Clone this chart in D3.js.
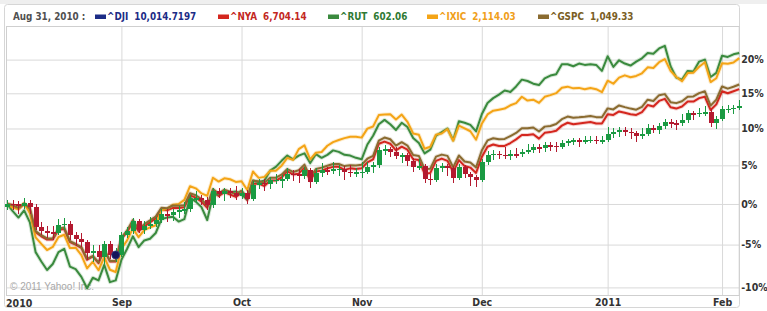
<!DOCTYPE html>
<html>
<head>
<meta charset="utf-8">
<title>Index comparison</title>
<style>
  body { margin: 0; background: #fff; }
  svg text { font-family: 'DejaVu Sans Condensed', 'DejaVu Sans', sans-serif; font-stretch: condensed; }
</style>
</head>
<body>
<svg id="chart" width="767" height="311"></svg>

<script src="https://d3js.org/d3.v7.min.js"></script>
<script type="text/javascript">

// trading days shown on the chart
const dates = [
    '2010-08-04','2010-08-05','2010-08-06','2010-08-09','2010-08-10','2010-08-11','2010-08-12','2010-08-13','2010-08-16','2010-08-17',
    '2010-08-18','2010-08-19','2010-08-20','2010-08-23','2010-08-24','2010-08-25','2010-08-26','2010-08-27','2010-08-30','2010-08-31',
    '2010-09-01','2010-09-02','2010-09-03','2010-09-07','2010-09-08','2010-09-09','2010-09-10','2010-09-13','2010-09-14','2010-09-15',
    '2010-09-16','2010-09-17','2010-09-20','2010-09-21','2010-09-22','2010-09-23','2010-09-24','2010-09-27','2010-09-28','2010-09-29','2010-09-30',
    '2010-10-01','2010-10-04','2010-10-05','2010-10-06','2010-10-07','2010-10-08','2010-10-11','2010-10-12','2010-10-13','2010-10-14',
    '2010-10-15','2010-10-18','2010-10-19','2010-10-20','2010-10-21','2010-10-22','2010-10-25','2010-10-26','2010-10-27','2010-10-28','2010-10-29',
    '2010-11-01','2010-11-02','2010-11-03','2010-11-04','2010-11-05','2010-11-08','2010-11-09','2010-11-10','2010-11-11','2010-11-12',
    '2010-11-15','2010-11-16','2010-11-17','2010-11-18','2010-11-19','2010-11-22','2010-11-23','2010-11-24','2010-11-26','2010-11-29','2010-11-30',
    '2010-12-01','2010-12-02','2010-12-03','2010-12-06','2010-12-07','2010-12-08','2010-12-09','2010-12-10','2010-12-13','2010-12-14',
    '2010-12-15','2010-12-16','2010-12-17','2010-12-20','2010-12-21','2010-12-22','2010-12-23','2010-12-27','2010-12-28','2010-12-29','2010-12-30','2010-12-31',
    '2011-01-03','2011-01-04','2011-01-05','2011-01-06','2011-01-07','2011-01-10','2011-01-11','2011-01-12','2011-01-13','2011-01-14',
    '2011-01-18','2011-01-19','2011-01-20','2011-01-21','2011-01-24','2011-01-25','2011-01-26','2011-01-27','2011-01-28','2011-01-31',
    '2011-02-01','2011-02-02','2011-02-03','2011-02-04'
];

// ^DJI candles, % change from first close
const djiOpen = [
    -0.41,0.00,-0.05,-0.25,0.17,-0.34,-2.82,-3.38,-3.53,-3.54,-2.57,-2.48,-3.83,-4.37,-4.74,-5.99,-5.81,-6.50,-4.96,-6.28,
    -6.23,-3.85,-3.37,-2.18,-3.18,-2.75,-2.48,-2.04,-1.28,-1.44,-1.01,-0.80,-0.68,0.69,0.75,0.55,-0.17,1.68,1.23,1.66,1.45,
    1.01,1.40,0.66,2.47,2.69,2.51,3.05,3.09,3.18,3.89,3.88,3.58,4.34,2.79,4.00,4.36,4.23,4.53,4.58,4.17,4.06,
    4.10,4.16,4.76,5.01,7.06,7.15,6.80,6.24,6.34,5.64,4.80,4.88,3.21,3.07,4.69,4.90,4.66,3.33,4.75,3.85,3.48,
    3.05,5.39,6.39,6.57,6.38,6.35,6.48,6.46,6.83,7.00,7.45,7.28,7.67,7.60,7.47,7.98,8.23,8.36,8.19,8.38,8.47,8.33,
    8.40,9.27,9.46,9.76,9.52,9.31,8.96,9.28,10.07,9.84,10.36,10.84,10.72,10.70,11.16,12.17,12.14,12.22,12.26,10.70,
    11.34,12.73,12.75,12.94
];
const djiHigh = [
    0.45,0.55,0.35,0.75,0.50,-0.04,-2.20,-2.80,-2.70,-1.85,-1.80,-2.10,-3.50,-3.60,-4.44,-5.00,-5.00,-4.60,-4.60,-5.40,
    -3.50,-2.90,-1.70,-1.88,-2.10,-1.60,-1.60,-0.60,-0.60,-0.60,-0.30,0.20,1.10,1.70,1.20,0.85,2.10,2.00,2.10,2.10,2.30,
    2.10,1.75,3.00,3.25,3.25,3.45,3.80,3.70,4.70,4.40,4.50,4.80,4.64,4.60,5.30,4.80,5.40,5.00,4.88,5.00,4.70,
    5.40,5.40,5.50,7.50,7.70,7.45,7.40,6.70,6.64,6.00,5.90,5.20,3.90,5.20,5.30,5.20,4.96,5.20,5.05,4.15,3.78,
    5.80,6.90,7.00,6.90,7.50,7.00,7.30,7.20,7.80,7.90,7.90,8.10,8.20,8.10,8.40,8.60,8.70,8.66,8.90,9.00,8.90,8.90,
    10.20,10.10,10.20,10.20,10.10,9.61,10.00,10.60,10.50,10.70,11.30,11.30,11.20,12.10,12.60,12.50,12.90,13.10,12.70,11.70,
    13.20,13.30,13.30,14.00
];
const djiLow = [
    -0.75,-0.70,-1.20,-0.60,-1.20,-3.25,-3.90,-4.20,-4.40,-3.84,-3.20,-4.40,-5.20,-5.30,-6.80,-7.10,-6.90,-7.30,-6.70,-7.10,
    -6.53,-4.20,-3.67,-3.60,-3.70,-3.10,-2.90,-2.34,-2.20,-2.10,-1.70,-1.20,-0.98,0.10,-0.10,-0.70,-0.47,0.70,0.40,0.80,0.50,
    0.60,0.00,0.36,1.90,1.70,1.90,2.60,2.00,2.88,3.00,2.70,3.20,2.00,2.49,3.40,3.70,3.90,3.60,3.10,3.50,3.40,
    3.30,3.86,4.00,4.71,6.40,6.10,5.80,5.30,4.90,4.10,4.40,2.70,2.40,2.77,4.10,3.60,2.70,3.03,3.30,2.30,2.20,
    2.75,5.09,5.70,5.80,5.90,5.70,6.00,6.10,6.50,6.60,6.60,6.80,6.90,6.80,7.17,7.60,7.70,7.40,7.80,8.00,7.90,7.80,
    8.10,8.70,8.80,9.00,8.50,8.20,8.60,8.98,9.40,9.30,9.90,10.10,9.80,10.40,10.80,11.20,11.60,11.70,10.20,9.90,
    11.04,12.20,12.00,12.60
];
const djiClose = [
    0.00,-0.05,-0.25,0.17,-0.34,-2.82,-3.38,-3.53,-3.54,-2.57,-2.48,-3.83,-4.37,-4.74,-5.99,-5.81,-6.50,-4.96,-6.28,-6.23,
    -3.85,-3.37,-2.18,-3.18,-2.75,-2.48,-2.04,-1.28,-1.44,-1.01,-0.80,-0.68,0.69,0.75,0.55,-0.17,1.68,1.23,1.66,1.45,1.01,
    1.40,0.66,2.47,2.69,2.51,3.05,3.09,3.18,3.89,3.88,3.58,4.34,2.79,4.00,4.36,4.23,4.53,4.58,4.17,4.06,4.10,
    4.16,4.76,5.01,7.06,7.15,6.80,6.24,6.34,5.64,4.80,4.88,3.21,3.07,4.69,4.90,4.66,3.33,4.75,3.85,3.48,3.05,
    5.39,6.39,6.57,6.38,6.35,6.48,6.46,6.83,7.00,7.45,7.28,7.67,7.60,7.47,7.98,8.23,8.36,8.19,8.38,8.47,8.33,8.40,
    9.27,9.46,9.76,9.52,9.31,8.96,9.28,10.07,9.84,10.36,10.84,10.72,10.70,11.16,12.17,12.14,12.22,12.26,10.70,11.34,
    12.73,12.75,12.94,13.22
];

// comparison lines, % change from first close
const nya = [
    0.0,-0.2,-0.6,0.0,-0.7,-3.5,-4.0,-4.4,-4.4,-3.2,-3.1,-4.7,-5.0,-5.4,-6.8,-6.4,-7.2,-5.6,-7.0,-7.0,
    -4.3,-3.5,-2.2,-3.4,-2.8,-2.3,-1.8,-0.7,-0.8,-0.5,-0.5,-0.4,1.1,0.8,0.3,-0.5,1.6,1.0,1.5,1.2,0.9,
    1.4,0.5,2.6,2.6,2.3,3.0,3.0,3.4,4.2,3.8,3.9,4.7,3.0,4.2,4.3,4.6,4.8,4.8,4.4,4.6,4.5,
    4.6,5.4,5.8,7.9,8.2,7.9,7.0,7.5,7.1,5.8,5.7,3.9,4.0,5.6,5.9,5.6,4.1,5.7,4.9,4.7,4.0,
    6.1,7.5,7.8,7.6,7.6,8.0,8.5,9.1,9.1,9.2,8.6,9.4,9.5,9.7,10.4,10.8,10.6,10.7,10.8,10.9,10.7,10.7,
    12.0,11.9,12.4,12.2,12.0,11.9,12.3,13.3,13.1,13.9,14.2,13.0,12.8,13.1,13.8,13.8,14.3,14.5,12.6,13.4,
    15.3,15.0,15.3,15.6
];
const rut = [
    0.0,-0.9,-1.7,-0.8,-2.3,-5.9,-7.0,-8.0,-7.3,-5.9,-5.5,-7.6,-7.9,-8.8,-10.1,-8.9,-9.2,-7.4,-9.4,-9.2,
    -6.8,-5.5,-4.0,-5.3,-4.5,-4.3,-3.6,-1.9,-1.7,-1.6,-2.2,-1.9,0.8,0.3,-0.4,-2.0,1.1,1.3,1.6,1.5,1.6,
    1.2,0.6,3.0,2.8,3.0,4.3,4.8,5.6,6.3,5.8,6.3,6.6,5.3,6.5,6.0,6.4,7.0,6.8,6.4,6.3,6.0,
    5.8,7.8,9.0,10.6,11.2,10.6,9.8,10.8,10.2,8.7,8.0,6.6,7.1,9.0,9.5,10.0,8.4,11.0,10.8,10.5,9.6,
    12.0,13.6,14.3,14.8,15.4,15.2,16.0,17.0,16.8,16.4,16.2,17.2,17.6,17.8,19.3,19.3,19.0,19.4,19.2,19.3,19.2,18.3,
    20.5,18.9,19.9,19.4,19.1,19.7,20.2,21.0,20.9,21.7,22.1,19.0,17.3,17.0,18.3,18.2,19.7,20.0,17.4,18.0,
    20.6,20.4,20.8,21.0
];
const ixic = [
    0.00,-0.46,-0.66,0.09,-1.15,-4.12,-4.92,-5.65,-5.28,-4.09,-3.81,-5.41,-5.37,-6.25,-7.81,-7.03,-8.03,-6.51,-7.97,-8.23,
    -5.50,-4.50,-3.03,-4.11,-3.24,-2.92,-2.65,-0.78,-0.60,-0.10,-0.01,0.52,2.27,1.99,1.34,1.02,3.37,2.87,3.30,3.17,2.82,
    2.92,1.78,4.18,3.35,3.48,4.27,4.29,4.96,5.98,5.72,7.17,7.69,5.79,6.68,6.78,7.63,8.13,8.41,8.67,8.85,8.85,
    8.74,9.98,10.28,11.88,11.96,12.00,11.26,11.95,10.94,9.32,9.13,7.22,7.49,9.15,9.31,9.92,8.31,10.40,10.03,9.62,8.45,
    10.67,11.97,12.50,12.65,12.80,13.27,13.59,14.50,13.95,14.07,13.62,14.49,14.73,15.02,15.80,15.97,15.72,15.79,15.60,15.77,15.60,15.16,
    16.84,16.40,17.30,17.64,17.35,17.55,17.94,18.83,18.74,19.61,20.07,18.31,17.40,16.76,17.97,18.04,18.92,19.61,16.64,17.21,
    19.43,19.36,19.55,20.22
];
const gspc = [
    0.00,-0.13,-0.50,0.05,-0.55,-3.35,-3.87,-4.26,-4.25,-3.08,-2.93,-4.58,-4.93,-5.31,-6.69,-6.38,-7.10,-5.56,-6.95,-6.91,
    -4.17,-3.29,-2.02,-3.14,-2.52,-2.05,-1.57,-0.47,-0.54,-0.19,-0.23,-0.15,1.37,1.11,0.62,-0.21,1.90,1.32,1.82,1.55,1.24,
    1.69,0.87,2.97,2.90,2.73,3.36,3.38,3.77,4.51,4.13,4.34,5.10,3.43,4.52,4.70,4.95,5.18,5.18,4.90,5.02,4.97,
    5.07,5.88,6.27,8.32,8.75,8.52,7.64,8.11,7.66,6.38,6.26,4.53,4.56,6.16,6.43,6.26,4.75,6.31,5.51,5.37,4.73,
    6.99,8.36,8.65,8.51,8.56,8.96,9.38,10.04,10.04,10.14,9.58,10.26,10.35,10.63,11.30,11.67,11.49,11.56,11.65,11.76,11.59,11.57,
    12.83,12.68,13.25,13.01,12.80,12.64,13.06,14.08,13.89,14.73,14.88,13.72,13.58,13.85,14.51,14.54,15.03,15.29,13.23,14.09,
    16.00,15.68,15.96,16.29
];

// legend (values at the hovered day)
const hoverDate = 'Aug 31, 2010';
const hoverDay = '2010-08-31';
const symbols = ['^DJI', '^NYA', '^RUT', '^IXIC', '^GSPC'];
const quotes = ['10,014.7197', '6,704.14', '602.06', '2,114.03', '1,049.33'];

// axes
const monthTicks = ['2010-09-01', '2010-10-01', '2010-11-01', '2010-12-01', '2011-01-03', '2011-02-01'];
const monthLabels = ['Sep', 'Oct', 'Nov', 'Dec', '2011', 'Feb'];
const startLabel = '2010';
const pctTicks = [20, 15, 10, 5, 0, -5, -10];

const colors = {
    dji: '#1c2c86', nya: '#d4261e', rut: '#3a8a3e', ixic: '#f4a416', gspc: '#8a6b30',
    up: '#1a9a42', down: '#b3192f'
};
const textColors = ['#1c2c86', '#c3281f', '#2f7a34', '#f0a01a', '#7a5e24'];

const svg = d3.select('#chart');
const plotLeft = 7, plotRight = 739.2, plotTop = 26, plotBottom = 295;

const x = d3.scalePoint()
    .domain(dates)
    .range([plotLeft, plotRight]);

// log scale on (1 + change), like the original percent comparison
const y = d3.scaleLog()
    .domain([0.9, 1.2])
    .range([287.4, 59.6]);
const yp = p => y(1 + p / 100);

// frame
svg.append('rect')
    .attr('x', 0).attr('y', 0).attr('width', 767).attr('height', 4)
    .attr('fill', '#efefef');
svg.append('rect')
    .attr('x', 4.5).attr('y', 4.5).attr('width', 735).attr('height', 303)
    .attr('rx', 3)
    .attr('fill', '#fff')
    .attr('stroke', '#d6d6d6');

// y axis + horizontal grid
svg.append('g')
    .attr('class', 'y-axis')
    .attr('transform', `translate(${plotRight}, 0)`)
    .call(d3.axisRight(y)
        .tickValues(pctTicks.map(p => 1 + p / 100))
        .tickFormat(v => Math.round((v - 1) * 100) + '%')
        .tickSize(-(plotRight - plotLeft + 1))
        .tickPadding(2))
    .call(g => g.select('.domain').remove())
    .call(g => g.selectAll('.tick line').attr('stroke', '#d9d9d9'))
    .call(g => g.selectAll('.tick text')
        .attr('fill', '#333')
        .style('font-size', '10.5px')
        .style('font-weight', 'bold'));

// x axis + vertical grid
svg.append('g')
    .attr('class', 'x-axis')
    .attr('transform', `translate(0, ${plotBottom})`)
    .call(d3.axisBottom(x)
        .tickValues(monthTicks)
        .tickFormat((d, i) => monthLabels[i])
        .tickSize(-(plotBottom - plotTop))
        .tickPadding(4))
    .call(g => g.select('.domain').remove())
    .call(g => g.selectAll('.tick line').attr('stroke', '#d9d9d9'))
    .call(g => g.selectAll('.tick text')
        .attr('fill', '#333')
        .style('font-size', '10.5px')
        .style('font-weight', 'bold'));

svg.append('text')
    .attr('x', 6)
    .attr('y', plotBottom + 12)
    .attr('fill', '#333')
    .style('font-size', '10.5px')
    .style('font-weight', 'bold')
    .text(startLabel);

// plot border
svg.append('rect')
    .attr('x', 6.5).attr('y', plotTop + 0.5)
    .attr('width', plotRight - 6.5).attr('height', plotBottom - plotTop)
    .attr('fill', 'none')
    .attr('stroke', '#cfcfcf');

svg.append('text')
    .attr('x', 10)
    .attr('y', 290)
    .attr('fill', '#a8a8a8')
    .style('font-family', "'Liberation Sans', Arial, sans-serif")
    .style('font-stretch', 'normal')
    .style('font-size', '10px')
    .text('\u00a9 2011 Yahoo! Inc.');

// comparison lines
const line = d3.line()
    .x((d, i) => x(dates[i]))
    .y(d => yp(d));

const series = [
    { values: nya, color: colors.nya },
    { values: rut, color: colors.rut },
    { values: ixic, color: colors.ixic },
    { values: gspc, color: colors.gspc }
];

const lines = svg.append('g').attr('class', 'lines');
for (const s of series) {
    lines.append('path')
        .attr('d', line(s.values))
        .attr('fill', 'none')
        .attr('stroke', s.color)
        .attr('stroke-opacity', 0.2)
        .attr('stroke-width', 4)
        .attr('stroke-linejoin', 'round');
    lines.append('path')
        .attr('d', line(s.values))
        .attr('fill', 'none')
        .attr('stroke', s.color)
        .attr('stroke-width', 2)
        .attr('stroke-linejoin', 'round');
}

// ^DJI candles
const candles = svg.append('g')
    .attr('class', 'candles')
    .attr('shape-rendering', 'crispEdges')
    .selectAll('g')
    .data(dates)
    .join('g')
        .attr('transform', d => `translate(${Math.round(x(d))}, 0)`);

const candleColor = (d, i) => djiClose[i] >= djiOpen[i] ? colors.up : colors.down;

candles.append('line')
    .attr('x1', 0.5).attr('x2', 0.5)
    .attr('y1', (d, i) => yp(djiHigh[i]))
    .attr('y2', (d, i) => yp(djiLow[i]))
    .attr('stroke', candleColor)
    .attr('stroke-width', 1);

candles.append('rect')
    .attr('x', -2)
    .attr('width', 5)
    .attr('y', (d, i) => yp(Math.max(djiOpen[i], djiClose[i])))
    .attr('height', (d, i) => Math.max(1.5, yp(Math.min(djiOpen[i], djiClose[i])) - yp(Math.max(djiOpen[i], djiClose[i]))))
    .attr('fill', candleColor);

// hover marker
const hi = dates.indexOf(hoverDay);
svg.append('circle')
    .attr('cx', x(hoverDay))
    .attr('cy', yp(djiClose[hi]))
    .attr('r', 4)
    .attr('fill', '#14145a')
    .attr('stroke', '#3a3a80')
    .attr('stroke-width', 0.8);

// legend
const legend = svg.append('g')
    .attr('class', 'legend')
    .style('font-size', '9.8px')
    .style('font-weight', 'bold');

legend.append('text')
    .attr('x', 13).attr('y', 20)
    .attr('fill', '#505050')
    .text(hoverDate + ' :');

const swatchX = [95, 218, 328, 427, 538];
const swatchColors = [colors.dji, colors.nya, colors.rut, colors.ixic, colors.gspc];
symbols.forEach((sym, i) => {
    legend.append('rect')
        .attr('x', swatchX[i]).attr('y', 14.5)
        .attr('width', 11).attr('height', 4.5)
        .attr('fill', swatchColors[i]);
    const t = legend.append('text')
        .attr('x', swatchX[i] + 12).attr('y', 20)
        .attr('fill', textColors[i])
        .text(sym);
    const w = t.node().getComputedTextLength();
    legend.append('text')
        .attr('x', swatchX[i] + 12 + w + 6).attr('y', 20)
        .attr('fill', textColors[i])
        .text(quotes[i]);
});

</script>
</body>
</html>
